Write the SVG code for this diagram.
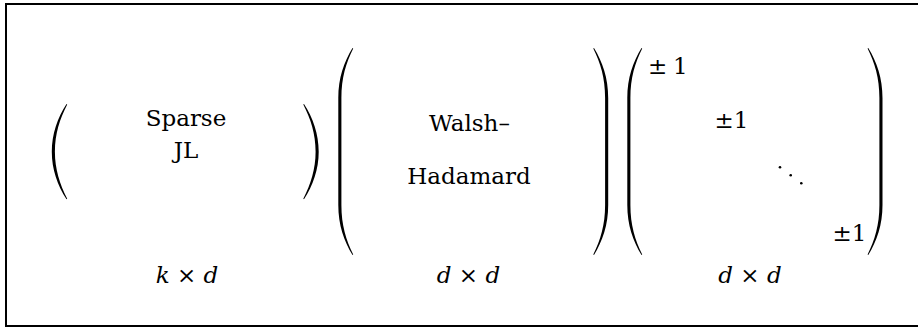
<svg xmlns="http://www.w3.org/2000/svg" width="918" height="328" viewBox="0 0 918 328">
<style>
text{font-family:'DejaVu Serif',serif;font-size:23px;fill:#000;text-anchor:middle}
.s{text-anchor:start}
.i{font-style:italic}
.p{fill:#000}
</style>
<defs>
<path id="bigp" d="M14.5,0 C6,14 0.3,30 0.3,50 L0.3,157 C0.3,177 6,193 14.5,207 L15.2,206.4 C8,192 3.4,177 3.4,157 L3.4,50 C3.4,30 8,15 15.2,0.6 Z"/>
<path id="smallp" d="M15,0 C6,14 0.3,30 0.3,47.7 C0.3,65.5 6,81 15,95.3 L15.7,94.7 C8.3,80 3.4,65 3.4,47.7 C3.4,30 8.3,15 15.7,0.6 Z"/>
</defs>
<rect x="6" y="4" width="930" height="322" fill="#fff" stroke="#000" stroke-width="2"/>
<g id="sparse-jl">
<use href="#smallp" class="p" transform="translate(51.5,104)"/>
<use href="#smallp" class="p" transform="translate(319,104) scale(-1,1)"/>
<text x="186" y="126">Sparse</text>
<text x="186" y="158">JL</text>
<text x="187" y="283"><tspan class="i">k</tspan> × <tspan class="i">d</tspan></text>
</g>
<g id="walsh-hadamard">
<use href="#bigp" class="p" transform="translate(338,48)"/>
<use href="#bigp" class="p" transform="translate(608.5,48) scale(-1,1)"/>
<text x="469.5" y="131">Walsh–</text>
<text x="469" y="184">Hadamard</text>
<text x="468.5" y="283"><tspan class="i">d</tspan> × <tspan class="i">d</tspan></text>
</g>
<g id="diagonal">
<use href="#bigp" class="p" transform="translate(627,48)"/>
<use href="#bigp" class="p" transform="translate(882.8,48) scale(-1,1)"/>
<text class="s" x="648" y="74">±</text>
<text class="s" x="673" y="74">1</text>
<text x="731.5" y="128">±1</text>
<circle class="p" cx="780" cy="167.3" r="1.3"/>
<circle class="p" cx="790.7" cy="175.3" r="1.3"/>
<circle class="p" cx="801.3" cy="183.3" r="1.3"/>
<text x="849.5" y="241">±1</text>
<text x="750" y="283"><tspan class="i">d</tspan> × <tspan class="i">d</tspan></text>
</g>
<g id="connectors"/>
</svg>
